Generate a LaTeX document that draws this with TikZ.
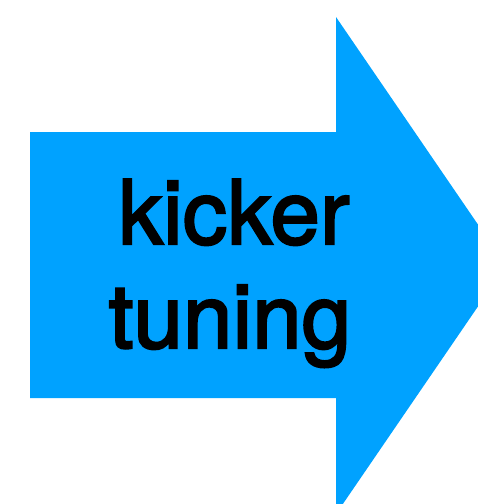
\documentclass[tikz,border=0pt]{standalone}
\usepackage{fontspec}
\setmainfont{TeX Gyre Heros}
\newfontfamily\medfont[FakeBold=2.5]{TeX Gyre Heros}
\definecolor{arrowblue}{RGB}{0,162,255}
\begin{document}
\begin{tikzpicture}[x=1pt,y=-1pt,
  lbl/.style={anchor=base,inner sep=0pt,text=black,font=\medfont\fontsize{89}{106}\selectfont}]
\useasboundingbox (0,0) rectangle (478,504);
\clip (0,0) rectangle (478,504);
\fill[arrowblue] (30,132) -- (336,132) -- (336,17) -- (506,265.5) -- (336,514) -- (336,398) -- (30,398) -- cycle;
\node[lbl] (l1) at (234,244) {kicker};
\node[lbl] (l2) at (230,348) {tuning};
\end{tikzpicture}
\end{document}
